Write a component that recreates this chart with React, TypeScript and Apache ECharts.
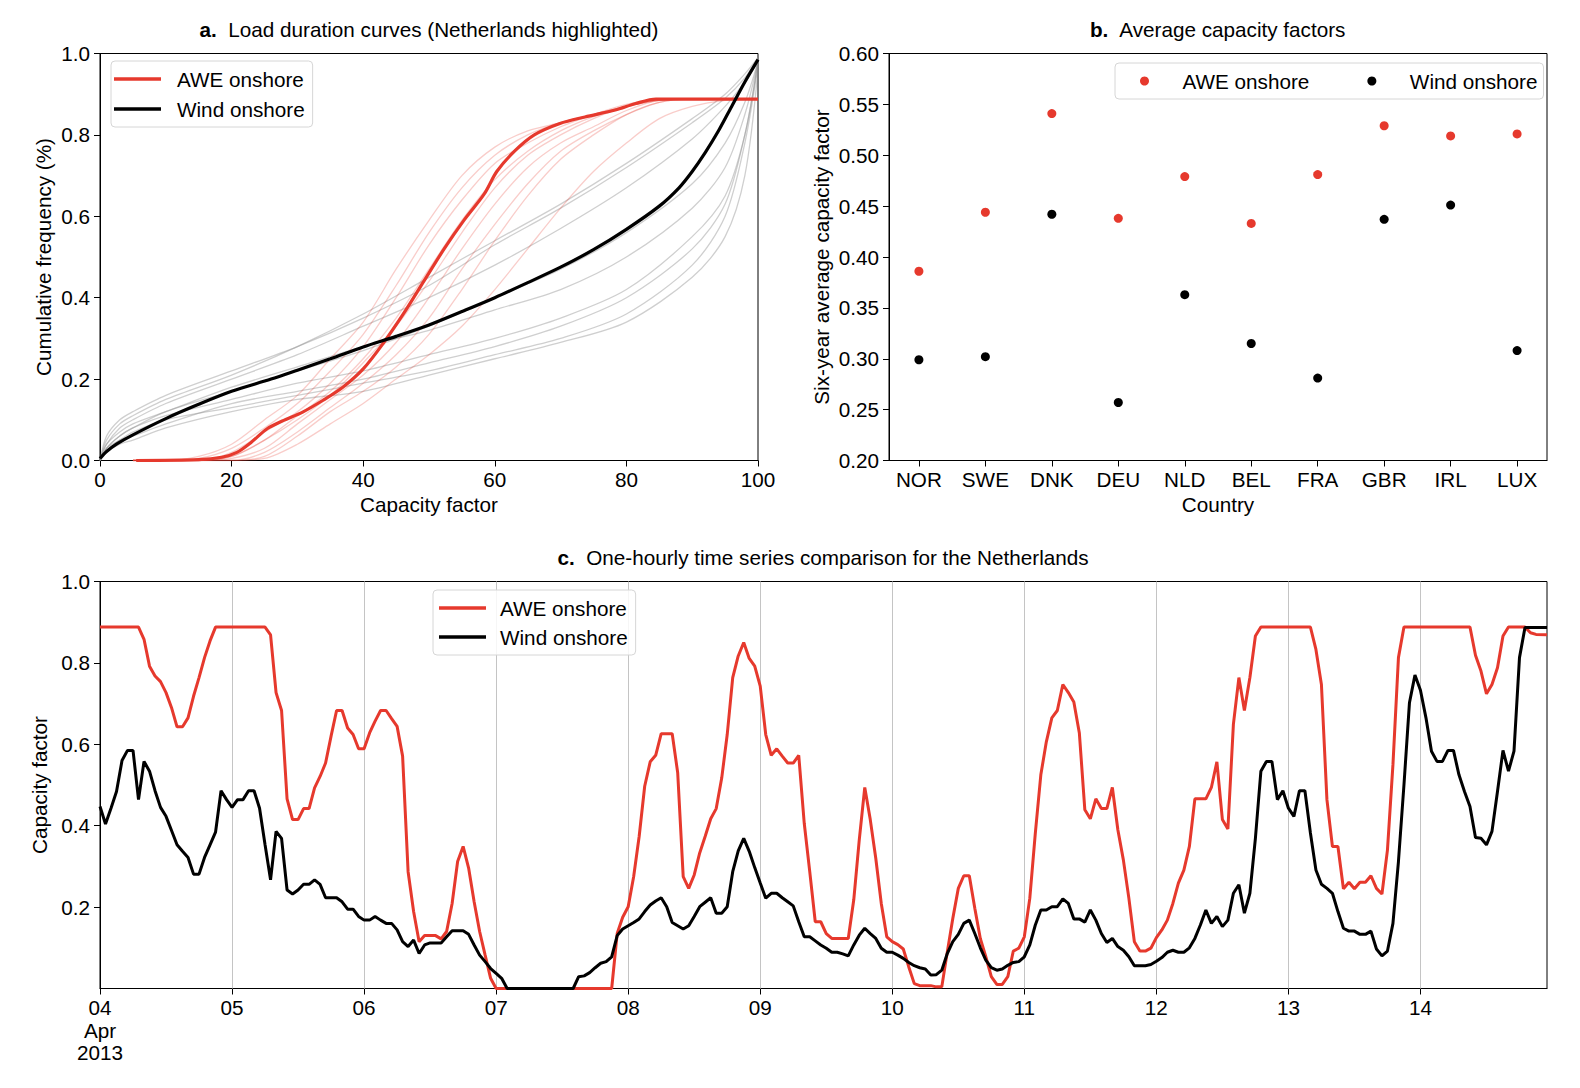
import React, { useEffect, useRef } from "react";
import * as echarts from "echarts";

const FONT = "Liberation Sans";
const FS = 20.7;
const RED = "#e6392d";
const BLACK = "#000000";

// ---------- Panel a: load duration curves ----------
const ldcWindX = [0, 1, 3, 5, 10, 20, 30, 40, 50, 60, 70, 80, 90, 95, 98, 100];
const windOther1 = [0, 0.06, 0.10, 0.12, 0.16, 0.22, 0.28, 0.35, 0.43, 0.53, 0.62, 0.72, 0.83, 0.89, 0.94, 0.99];
const windOther2 = [0, 0.05, 0.09, 0.11, 0.15, 0.21, 0.28, 0.36, 0.45, 0.54, 0.63, 0.73, 0.84, 0.90, 0.95, 0.99];
const windOther3 = [0, 0.04, 0.08, 0.10, 0.14, 0.20, 0.26, 0.33, 0.40, 0.48, 0.57, 0.67, 0.79, 0.87, 0.93, 0.98];
const windOther4 = [0, 0.03, 0.06, 0.08, 0.12, 0.17, 0.22, 0.27, 0.33, 0.40, 0.47, 0.56, 0.68, 0.78, 0.88, 0.98];
const windOther5 = [0, 0.03, 0.05, 0.07, 0.10, 0.13, 0.16, 0.19, 0.22, 0.26, 0.30, 0.36, 0.48, 0.60, 0.78, 0.97];
const windOther6 = [0, 0.02, 0.05, 0.06, 0.09, 0.14, 0.17, 0.20, 0.24, 0.28, 0.33, 0.40, 0.52, 0.63, 0.80, 0.98];
const windOther7 = [0, 0.02, 0.04, 0.05, 0.08, 0.12, 0.15, 0.17, 0.21, 0.25, 0.29, 0.34, 0.45, 0.55, 0.70, 0.96];
const windOther8 = [0, 0.03, 0.06, 0.08, 0.11, 0.15, 0.19, 0.22, 0.26, 0.30, 0.35, 0.42, 0.55, 0.65, 0.80, 0.98];
const windOther9 = [0, 0.04, 0.07, 0.09, 0.12, 0.18, 0.23, 0.28, 0.32, 0.37, 0.42, 0.50, 0.62, 0.72, 0.85, 0.98];
const windOthers = [windOther1, windOther2, windOther3, windOther4, windOther5, windOther6, windOther7, windOther8, windOther9];

const ldcAweX = [5, 10, 15, 20, 25, 30, 35, 40, 45, 50, 55, 60, 65, 70, 75, 80, 85, 90, 95, 100];
const aweOther1 = [0, 0, 0.01, 0.04, 0.10, 0.16, 0.25, 0.34, 0.47, 0.59, 0.70, 0.77, 0.81, 0.83, 0.85, 0.87, 0.885, 0.888, 0.888, 0.888];
const aweOther2 = [0, 0, 0.005, 0.03, 0.08, 0.14, 0.22, 0.31, 0.43, 0.56, 0.67, 0.75, 0.80, 0.83, 0.85, 0.87, 0.885, 0.888, 0.888, 0.888];
const aweOther3 = [0, 0, 0, 0.02, 0.07, 0.12, 0.19, 0.28, 0.40, 0.53, 0.64, 0.73, 0.78, 0.82, 0.85, 0.875, 0.888, 0.888, 0.888, 0.888];
const aweOther4 = [0, 0, 0, 0.01, 0.05, 0.11, 0.17, 0.25, 0.35, 0.47, 0.59, 0.69, 0.76, 0.81, 0.845, 0.87, 0.886, 0.888, 0.888, 0.888];
const aweOther5 = [0, 0, 0, 0.005, 0.03, 0.09, 0.15, 0.21, 0.29, 0.40, 0.52, 0.63, 0.72, 0.78, 0.82, 0.86, 0.885, 0.888, 0.888, 0.888];
const aweOther6 = [0, 0, 0, 0, 0.02, 0.07, 0.13, 0.19, 0.26, 0.35, 0.47, 0.58, 0.68, 0.76, 0.81, 0.85, 0.88, 0.888, 0.888, 0.888];
const aweOther7 = [0, 0, 0, 0, 0.01, 0.06, 0.12, 0.17, 0.23, 0.31, 0.42, 0.54, 0.65, 0.74, 0.80, 0.85, 0.88, 0.888, 0.888, 0.888];
const aweOther8 = [0, 0, 0, 0, 0.005, 0.04, 0.09, 0.14, 0.20, 0.26, 0.33, 0.42, 0.52, 0.62, 0.71, 0.78, 0.84, 0.87, 0.885, 0.888];
const aweOther9 = [0, 0, 0, 0.01, 0.05, 0.10, 0.16, 0.24, 0.33, 0.44, 0.56, 0.67, 0.75, 0.80, 0.84, 0.87, 0.886, 0.888, 0.888, 0.888];
const aweOthers = [aweOther1, aweOther2, aweOther3, aweOther4, aweOther5, aweOther6, aweOther7, aweOther8, aweOther9];

const nlAweLdcX = [5.5, 15, 18.5, 20.8, 23, 25.4, 27.7, 30.8, 33.9, 36.9, 40, 43, 46.1, 49.2, 52.3, 55.3, 58.4, 60.3, 63, 66, 69.9, 73.7, 78.3, 81.4, 84.5, 100];
const nlAweLdcY = [0, 0.002, 0.008, 0.02, 0.045, 0.078, 0.097, 0.119, 0.148, 0.18, 0.225, 0.287, 0.36, 0.44, 0.52, 0.59, 0.655, 0.71, 0.76, 0.8, 0.828, 0.844, 0.861, 0.877, 0.888, 0.888];
const nlWindLdcX = [0, 1, 2.5, 5, 10, 15, 20, 26, 30, 35, 40, 45, 50, 55, 60, 65, 70, 75, 80, 85, 88, 90, 92, 94, 96, 98, 100];
const nlWindLdcY = [0.005, 0.022, 0.04, 0.063, 0.103, 0.138, 0.17, 0.2, 0.222, 0.25, 0.279, 0.305, 0.333, 0.366, 0.4, 0.437, 0.475, 0.518, 0.568, 0.625, 0.67, 0.71, 0.757, 0.81, 0.87, 0.93, 0.985];

// ---------- Panel b: average capacity factors ----------
const countries = ["NOR", "SWE", "DNK", "DEU", "NLD", "BEL", "FRA", "GBR", "IRL", "LUX"];
const aweAvg = [0.386, 0.444, 0.541, 0.438, 0.479, 0.433, 0.481, 0.529, 0.519, 0.521];
const windAvg = [0.299, 0.302, 0.442, 0.257, 0.363, 0.315, 0.281, 0.437, 0.451, 0.308];

// ---------- Panel c: hourly time series (hours since 2013-04-04 00:00) ----------
const seriesStart = Date.UTC(2013, 3, 4);
const seriesEndHour = 263;
const dayLabels = [4, 5, 6, 7, 8, 9, 10, 11, 12, 13, 14];

const aweHours = [0, 7, 8, 9, 10, 11, 12, 13, 14, 15, 16, 17, 18, 19, 20, 21, 30, 31, 32, 33, 34, 35, 36, 37, 38, 39, 40, 41, 42, 43, 44, 45, 46, 47, 48, 49, 50, 51, 52, 53, 54, 55, 56, 57, 58, 59, 60, 61, 62, 63, 64, 65, 66, 67, 68, 69, 70, 71, 72, 93, 94, 95, 96, 97, 98, 99, 100, 101, 102, 103, 104, 105, 106, 107, 108, 109, 110, 111, 112, 113, 114, 115, 116, 117, 118, 119, 120, 121, 122, 123, 124, 125, 126, 127, 128, 129, 130, 131, 132, 133, 134, 135, 136, 137, 138, 139, 140, 141, 142, 143, 144, 145, 146, 147, 148, 149, 150, 151, 152, 153, 154, 155, 156, 157, 158, 159, 160, 161, 162, 163, 164, 165, 166, 167, 168, 169, 170, 171, 172, 173, 174, 175, 176, 177, 178, 179, 180, 181, 182, 183, 184, 185, 186, 187, 188, 189, 190, 191, 192, 193, 194, 195, 196, 197, 198, 199, 200, 201, 202, 203, 204, 205, 206, 207, 208, 209, 210, 211, 220, 221, 222, 223, 224, 225, 226, 227, 228, 229, 230, 231, 232, 233, 234, 235, 236, 237, 249, 250, 251, 252, 253, 254, 255, 256, 259, 260, 261, 263];
const aweCF = [0.888, 0.888, 0.858, 0.792, 0.768, 0.754, 0.727, 0.69, 0.643, 0.643, 0.665, 0.718, 0.764, 0.813, 0.854, 0.888, 0.888, 0.869, 0.727, 0.683, 0.466, 0.415, 0.415, 0.442, 0.442, 0.493, 0.521, 0.554, 0.62, 0.683, 0.683, 0.64, 0.624, 0.589, 0.589, 0.628, 0.657, 0.683, 0.683, 0.663, 0.644, 0.571, 0.287, 0.189, 0.115, 0.13, 0.13, 0.13, 0.122, 0.14, 0.209, 0.312, 0.349, 0.296, 0.213, 0.14, 0.082, 0.025, 0, 0, 0.135, 0.175, 0.201, 0.275, 0.374, 0.497, 0.557, 0.573, 0.626, 0.626, 0.626, 0.53, 0.275, 0.246, 0.279, 0.333, 0.374, 0.417, 0.442, 0.517, 0.624, 0.764, 0.817, 0.85, 0.811, 0.792, 0.743, 0.624, 0.573, 0.589, 0.571, 0.554, 0.554, 0.573, 0.406, 0.287, 0.164, 0.164, 0.135, 0.123, 0.123, 0.123, 0.123, 0.218, 0.365, 0.494, 0.415, 0.32, 0.209, 0.127, 0.115, 0.108, 0.097, 0.053, 0.012, 0.007, 0.007, 0.007, 0.004, 0.004, 0.09, 0.172, 0.246, 0.277, 0.277, 0.197, 0.123, 0.078, 0.029, 0.01, 0.01, 0.029, 0.092, 0.099, 0.127, 0.222, 0.382, 0.525, 0.606, 0.665, 0.683, 0.747, 0.727, 0.704, 0.628, 0.439, 0.417, 0.466, 0.442, 0.442, 0.494, 0.39, 0.316, 0.222, 0.115, 0.092, 0.092, 0.099, 0.125, 0.144, 0.168, 0.209, 0.259, 0.291, 0.349, 0.466, 0.466, 0.466, 0.494, 0.557, 0.415, 0.392, 0.649, 0.764, 0.683, 0.764, 0.866, 0.888, 0.888, 0.833, 0.747, 0.464, 0.349, 0.349, 0.245, 0.261, 0.245, 0.261, 0.261, 0.277, 0.246, 0.232, 0.34, 0.55, 0.813, 0.888, 0.888, 0.819, 0.78, 0.724, 0.747, 0.788, 0.866, 0.888, 0.888, 0.874, 0.87, 0.869];

const windHours = [0, 1, 2, 3, 4, 5, 6, 7, 8, 9, 10, 11, 12, 13, 14, 15, 16, 17, 18, 19, 20, 21, 22, 23, 24, 25, 26, 27, 28, 29, 30, 31, 32, 33, 34, 35, 36, 37, 38, 39, 40, 41, 42, 43, 44, 45, 46, 47, 48, 49, 50, 51, 52, 53, 54, 55, 56, 57, 58, 59, 60, 61, 62, 63, 64, 65, 66, 67, 68, 69, 70, 71, 72, 73, 74, 86, 87, 88, 89, 90, 91, 92, 93, 94, 95, 96, 97, 98, 99, 100, 101, 102, 103, 104, 105, 106, 107, 108, 109, 110, 111, 112, 113, 114, 115, 116, 117, 118, 119, 120, 121, 122, 123, 124, 125, 126, 127, 128, 129, 130, 131, 132, 133, 134, 135, 136, 137, 138, 139, 140, 141, 142, 143, 144, 145, 146, 147, 148, 149, 150, 151, 152, 153, 154, 155, 156, 157, 158, 159, 160, 161, 162, 163, 164, 165, 166, 167, 168, 169, 170, 171, 172, 173, 174, 175, 176, 177, 178, 179, 180, 181, 182, 183, 184, 185, 186, 187, 188, 189, 190, 191, 192, 193, 194, 195, 196, 197, 198, 199, 200, 201, 202, 203, 204, 205, 206, 207, 208, 209, 210, 211, 212, 213, 214, 215, 216, 217, 218, 219, 220, 221, 222, 223, 224, 225, 226, 227, 228, 229, 230, 231, 232, 233, 234, 235, 236, 237, 238, 239, 240, 241, 242, 243, 244, 245, 246, 247, 248, 249, 250, 251, 252, 253, 254, 255, 256, 257, 258, 259, 263];
const windCF = [0.447, 0.404, 0.443, 0.484, 0.56, 0.585, 0.585, 0.464, 0.558, 0.534, 0.486, 0.445, 0.423, 0.388, 0.353, 0.337, 0.322, 0.281, 0.281, 0.322, 0.353, 0.384, 0.486, 0.464, 0.445, 0.464, 0.464, 0.486, 0.486, 0.443, 0.353, 0.267, 0.386, 0.369, 0.242, 0.232, 0.242, 0.256, 0.256, 0.267, 0.256, 0.223, 0.223, 0.223, 0.213, 0.195, 0.195, 0.177, 0.168, 0.168, 0.177, 0.168, 0.16, 0.16, 0.144, 0.115, 0.103, 0.119, 0.086, 0.107, 0.112, 0.112, 0.112, 0.127, 0.142, 0.142, 0.142, 0.133, 0.107, 0.082, 0.066, 0.049, 0.037, 0.025, 0, 0, 0.029, 0.031, 0.039, 0.051, 0.062, 0.066, 0.078, 0.13, 0.146, 0.154, 0.162, 0.171, 0.189, 0.205, 0.215, 0.223, 0.201, 0.162, 0.154, 0.146, 0.154, 0.177, 0.201, 0.212, 0.223, 0.185, 0.185, 0.201, 0.287, 0.338, 0.369, 0.337, 0.297, 0.259, 0.222, 0.234, 0.234, 0.223, 0.213, 0.203, 0.164, 0.127, 0.127, 0.117, 0.107, 0.099, 0.089, 0.089, 0.085, 0.08, 0.107, 0.131, 0.148, 0.135, 0.123, 0.099, 0.089, 0.089, 0.082, 0.074, 0.064, 0.056, 0.051, 0.048, 0.033, 0.034, 0.045, 0.086, 0.115, 0.133, 0.16, 0.168, 0.135, 0.1, 0.07, 0.051, 0.045, 0.048, 0.057, 0.064, 0.066, 0.078, 0.107, 0.156, 0.193, 0.193, 0.201, 0.201, 0.22, 0.209, 0.171, 0.171, 0.163, 0.193, 0.168, 0.135, 0.113, 0.123, 0.103, 0.094, 0.078, 0.056, 0.056, 0.056, 0.059, 0.067, 0.076, 0.089, 0.094, 0.089, 0.089, 0.1, 0.123, 0.156, 0.193, 0.16, 0.177, 0.152, 0.168, 0.234, 0.255, 0.185, 0.234, 0.369, 0.534, 0.558, 0.558, 0.464, 0.486, 0.443, 0.423, 0.486, 0.486, 0.382, 0.291, 0.256, 0.246, 0.234, 0.189, 0.148, 0.141, 0.141, 0.133, 0.133, 0.141, 0.097, 0.08, 0.092, 0.16, 0.312, 0.5, 0.702, 0.77, 0.733, 0.665, 0.583, 0.558, 0.558, 0.585, 0.585, 0.525, 0.484, 0.447, 0.371, 0.369, 0.353, 0.386, 0.484, 0.585, 0.534, 0.583, 0.813, 0.887, 0.887];

const HOUR = 3600 * 1000;
const DAY = 24 * HOUR;

const txt = { fontFamily: FONT, fontSize: FS, color: "#000" };

function pairs(xs: number[], ys: number[]) {
  return xs.map((x, i) => [x, ys[i]]);
}

function buildOption() {
  const axisLine = { show: true, onZero: false, lineStyle: { color: "#000", width: 1 } };
  const axisTick = { show: true, length: 6, inside: false, lineStyle: { color: "#000", width: 1 } };
  const dayValues = dayLabels.map((d) => seriesStart + (d - 4) * DAY);

  const series: any[] = [];
  windOthers.forEach((ys, i) => {
    series.push({
      type: "line", name: "Wind onshore (other countries) " + (i + 1),
      xAxisIndex: 0, yAxisIndex: 0, data: pairs(ldcWindX, ys),
      symbol: "none", showSymbol: false, smooth: 0.3, silent: true, z: 1,
      lineStyle: { color: "rgba(140,140,140,0.42)", width: 1.3 },
      itemStyle: { color: "rgba(140,140,140,0.42)" },
    });
  });
  aweOthers.forEach((ys, i) => {
    series.push({
      type: "line", name: "AWE onshore (other countries) " + (i + 1),
      xAxisIndex: 0, yAxisIndex: 0, data: pairs(ldcAweX, ys),
      symbol: "none", showSymbol: false, smooth: 0.3, silent: true, z: 1,
      lineStyle: { color: "rgba(230,57,45,0.25)", width: 1.3 },
      itemStyle: { color: "rgba(230,57,45,0.25)" },
    });
  });
  series.push({
    type: "line", name: "AWE onshore", xAxisIndex: 0, yAxisIndex: 0,
    data: pairs(nlAweLdcX, nlAweLdcY), symbol: "none", showSymbol: false, smooth: 0.3, z: 3,
    lineStyle: { color: RED, width: 3.2 }, itemStyle: { color: RED },
  });
  series.push({
    type: "line", name: "Wind onshore", xAxisIndex: 0, yAxisIndex: 0,
    data: pairs(nlWindLdcX, nlWindLdcY), symbol: "none", showSymbol: false, smooth: 0.3, z: 4,
    lineStyle: { color: BLACK, width: 3.2 }, itemStyle: { color: BLACK },
  });

  // panel b
  series.push({
    type: "scatter", name: "AWE onshore", xAxisIndex: 1, yAxisIndex: 1,
    data: aweAvg.map((v, i) => [i, v]), symbolSize: 9, itemStyle: { color: RED, opacity: 1 }, z: 3,
  });
  series.push({
    type: "scatter", name: "Wind onshore", xAxisIndex: 1, yAxisIndex: 1,
    data: windAvg.map((v, i) => [i, v]), symbolSize: 9, itemStyle: { color: BLACK, opacity: 1 }, z: 3,
  });

  // panel c
  series.push({
    type: "line", name: "AWE onshore", xAxisIndex: 2, yAxisIndex: 2,
    data: aweHours.map((h, i) => [seriesStart + h * HOUR, aweCF[i]]),
    symbol: "none", showSymbol: false, z: 3,
    lineStyle: { color: RED, width: 3 }, itemStyle: { color: RED },
    markLine: {
      silent: true, z: 1, symbol: ["none", "none"], label: { show: false },
      lineStyle: { color: "#c4c4c4", width: 1, type: "solid" },
      emphasis: { disabled: true },
      data: dayValues.slice(1).map((v) => ({ xAxis: v })),
    },
  });
  series.push({
    type: "line", name: "Wind onshore", xAxisIndex: 2, yAxisIndex: 2,
    data: windHours.map((h, i) => [seriesStart + h * HOUR, windCF[i]]),
    symbol: "none", showSymbol: false, z: 4,
    lineStyle: { color: BLACK, width: 3 }, itemStyle: { color: BLACK },
  });

  const legendCommon = {
    selectedMode: false,
    backgroundColor: "rgba(255,255,255,0.85)",
    borderColor: "#d6d6d6",
    borderWidth: 1,
    borderRadius: 4,
  };

  const titleStyle = { ...txt, fontWeight: "normal", rich: { b: { ...txt, fontWeight: "bold" } } };

  return {
    animation: false,
    backgroundColor: "#fff",
    textStyle: { fontFamily: FONT },
    title: [
      { text: "{b|a.}  Load duration curves (Netherlands highlighted)", left: 429, top: 19, textAlign: "center", padding: 0, textStyle: titleStyle },
      { text: "{b|b.}  Average capacity factors", left: 1218, top: 19, textAlign: "center", padding: 0, textStyle: titleStyle },
      { text: "{b|c.}  One-hourly time series comparison for the Netherlands", left: 823, top: 547, textAlign: "center", padding: 0, textStyle: titleStyle },
    ],
    legend: [
      {
        ...legendCommon,
        orient: "vertical", left: 111, top: 61, padding: [7, 8, 7, 3],
        itemWidth: 47, itemHeight: 3.5, itemGap: 8,
        textStyle: { ...txt, lineHeight: 22, padding: [0, 0, 0, 11] },
        data: [{ name: "AWE onshore", icon: "rect" }, { name: "Wind onshore", icon: "rect" }],
      },
      {
        ...legendCommon,
        orient: "horizontal", left: 1115, top: 63, padding: [7, 6, 7, 25],
        itemWidth: 20, itemHeight: 9, itemGap: 58,
        textStyle: { ...txt, lineHeight: 22, padding: [0, 0, 0, 23] },
        data: [{ name: "AWE onshore", icon: "circle" }, { name: "Wind onshore", icon: "circle" }],
      },
      {
        ...legendCommon,
        orient: "vertical", left: 433, top: 590, padding: [7, 8, 7, 6],
        itemWidth: 47, itemHeight: 3.5, itemGap: 7,
        textStyle: { ...txt, lineHeight: 22, padding: [0, 0, 0, 9] },
        data: [{ name: "AWE onshore", icon: "rect" }, { name: "Wind onshore", icon: "rect" }],
      },
    ],
    grid: [
      { left: 100, top: 53.5, width: 658, height: 407, show: true, borderColor: "#000", borderWidth: 1, backgroundColor: "transparent" },
      { left: 889, top: 53.5, width: 658, height: 407, show: true, borderColor: "#000", borderWidth: 1, backgroundColor: "transparent" },
      { left: 100, top: 581.5, width: 1447, height: 407, show: true, borderColor: "#000", borderWidth: 1, backgroundColor: "transparent" },
    ],
    xAxis: [
      {
        type: "value", gridIndex: 0, min: 0, max: 100, interval: 20,
        axisLine, axisTick, splitLine: { show: false },
        axisLabel: { ...txt, margin: 8 },
        name: "Capacity factor", nameLocation: "middle", nameGap: 33, nameTextStyle: { ...txt },
      },
      {
        type: "value", gridIndex: 1, min: -0.45, max: 9.45,
        axisLine, splitLine: { show: false },
        axisTick: { ...axisTick, customValues: countries.map((_, i) => i) },
        axisLabel: {
          ...txt, margin: 8, customValues: countries.map((_, i) => i),
          formatter: (v: number) => countries[Math.round(v)] ?? "",
        },
        name: "Country", nameLocation: "middle", nameGap: 33, nameTextStyle: { ...txt },
      },
      {
        type: "value", gridIndex: 2, min: seriesStart, max: seriesStart + seriesEndHour * HOUR,
        axisLine, splitLine: { show: false },
        axisTick: { ...axisTick, customValues: dayValues },
        axisLabel: {
          ...txt, margin: 8, lineHeight: 22.5, hideOverlap: false,
          customValues: dayValues,
          formatter: (v: number) => {
            const dt = new Date(v);
            const d = String(dt.getUTCDate()).padStart(2, "0");
            return v === seriesStart ? d + "\nApr\n2013" : d;
          },
        },
      },
    ],
    yAxis: [
      {
        type: "value", gridIndex: 0, min: 0, max: 1, interval: 0.2,
        axisLine, axisTick, splitLine: { show: false },
        axisLabel: { ...txt, margin: 10, formatter: (v: number) => v.toFixed(1) },
        name: "Cumulative frequency (%)", nameLocation: "middle", nameGap: 46, nameTextStyle: { ...txt },
      },
      {
        type: "value", gridIndex: 1, min: 0.2, max: 0.6, interval: 0.05,
        axisLine, axisTick, splitLine: { show: false },
        axisLabel: { ...txt, margin: 10, formatter: (v: number) => v.toFixed(2) },
        name: "Six-year average capacity factor", nameLocation: "middle", nameGap: 57, nameTextStyle: { ...txt },
      },
      {
        type: "value", gridIndex: 2, min: 0, max: 1,
        axisLine, splitLine: { show: false },
        axisTick: { ...axisTick, customValues: [0.2, 0.4, 0.6, 0.8, 1.0] },
        axisLabel: { ...txt, margin: 10, customValues: [0.2, 0.4, 0.6, 0.8, 1.0], formatter: (v: number) => v.toFixed(1) },
        name: "Capacity factor", nameLocation: "middle", nameGap: 46, nameTextStyle: { ...txt },
      },
    ],
    series,
  };
}

export default function App() {
  const ref = useRef<HTMLDivElement>(null);
  useEffect(() => {
    if (!ref.current) return;
    const chart = echarts.init(ref.current, undefined, { renderer: "svg" });
    chart.setOption(buildOption() as any);
    return () => chart.dispose();
  }, []);
  return (
    <div
      ref={ref}
      style={{ position: "fixed", left: 0, top: 0, width: 1580, height: 1088, background: "#fff" }}
    />
  );
}
